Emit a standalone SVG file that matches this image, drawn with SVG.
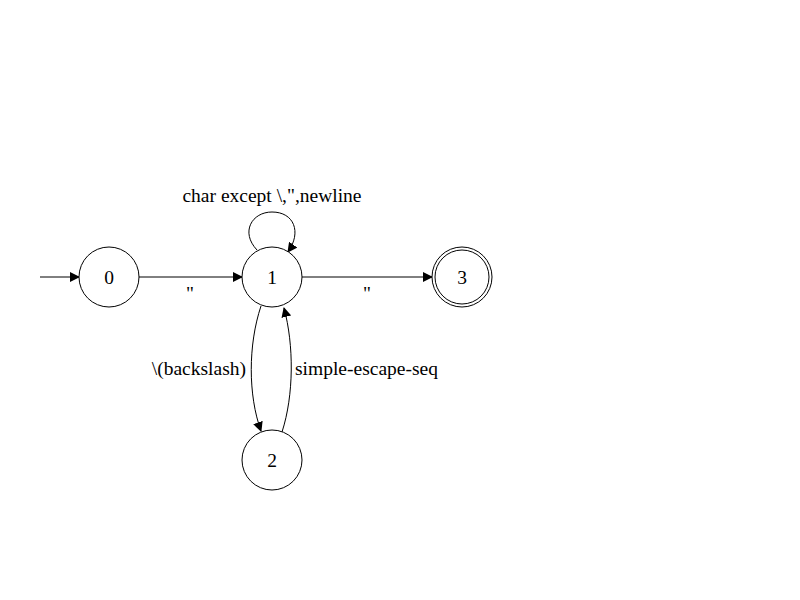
<svg xmlns="http://www.w3.org/2000/svg" width="800" height="600" viewBox="0 0 800 600">
<style>
.n{fill:#fff;stroke:#000;stroke-width:1}
.e{fill:none;stroke:#000;stroke-width:1}
text{font-family:"Liberation Serif","Times New Roman",serif;font-size:19.5px;fill:#000}
.c{text-anchor:middle}
</style>
<defs>
<marker id="a" markerWidth="10" markerHeight="10" refX="9" refY="5" orient="auto" markerUnits="userSpaceOnUse">
<path d="M0,0 L10,5 L0,10 z" fill="#000"/>
</marker>
</defs>
<rect width="800" height="600" fill="#fff"/>
<g id="edges">
<path class="e" d="M40,277 L79,277" marker-end="url(#a)"/>
<path class="e" d="M139,277 L242,277" marker-end="url(#a)"/>
<path class="e" d="M302,277 L432,277" marker-end="url(#a)"/>
<path class="e" d="M257,250 C240,232 252,212 272,212 C294,212 302,232 288,252" marker-end="url(#a)"/>
<path class="e" d="M261,306 C248,345 248,395 261,431" marker-end="url(#a)"/>
<path class="e" d="M282,432 C294,395 294,345 284,308" marker-end="url(#a)"/>
</g>
<g id="labels">
<text class="c" x="272" y="202">char except \,",newline</text>
<text class="c" x="190" y="300">"</text>
<text class="c" x="367" y="300">"</text>
<text x="246" y="375" text-anchor="end">\(backslash)</text>
<text x="295" y="375">simple-escape-seq</text>
</g>
<g id="node0"><circle class="n" cx="109" cy="277" r="30"/><text class="c" x="109" y="284">0</text></g>
<g id="node1"><circle class="n" cx="272" cy="277" r="30"/><text class="c" x="272" y="284">1</text></g>
<g id="node2"><circle class="n" cx="272" cy="460" r="30"/><text class="c" x="272" y="467">2</text></g>
<g id="node3"><circle class="n" cx="462" cy="277" r="30"/><circle class="n" cx="462" cy="277" r="27"/><text class="c" x="462" y="284">3</text></g>
</svg>
